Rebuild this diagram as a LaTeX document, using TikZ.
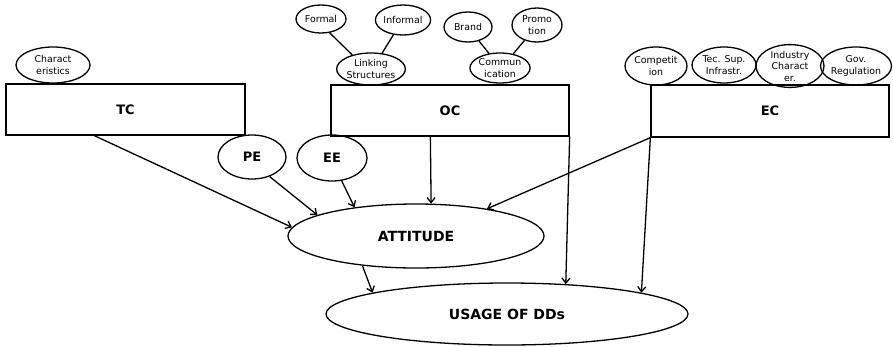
\documentclass[tikz,border=0pt]{standalone}
\usepackage{fontspec}
\setmainfont{DejaVu Sans}
\usetikzlibrary{shapes.geometric,arrows.meta,calc}
\begin{document}
\begin{tikzpicture}[x=1pt,y=-1pt,line width=1.3pt,
  box/.style={draw,rectangle,inner sep=0pt,font=\bfseries\fontsize{13}{15}\selectfont},
  oval/.style={draw,ellipse,inner sep=0pt,align=center,font=\fontsize{9.4}{11.5}\selectfont},
  bigoval/.style={draw,ellipse,inner sep=0pt,font=\bfseries\fontsize{13}{15}\selectfont},
  arr/.style={-{Straight Barb[length=5pt,width=8pt]}}]
\useasboundingbox (0,0) rectangle (893,346);
% boxes
\node[box,minimum width=239pt,minimum height=51pt] (TC) at (125.5,109.5) {TC};
\node[box,minimum width=238pt,minimum height=51pt] (OC) at (450,110.5) {OC};
\node[box,minimum width=238pt,minimum height=52pt] (EC) at (770,111) {EC};
% top ovals
\node[oval,minimum width=74pt,minimum height=36pt] (CH) at (53,65) {Charact\\eristics};
\node[oval,minimum width=50pt,minimum height=28pt] (FO) at (321,19) {Formal};
\node[oval,minimum width=50pt,minimum height=30pt] (IN) at (403,20) {Informal};
\node[oval,minimum width=58pt,minimum height=32pt] (LS) at (371,69) {Linking\\Structures};
\node[oval,minimum width=48pt,minimum height=30pt] (BR) at (468,27) {Brand};
\node[oval,minimum width=50pt,minimum height=34pt] (PR) at (537,25) {Promo\\tion};
\node[oval,minimum width=54pt,minimum height=30pt] (CO) at (500,68) {Commun\\ication};
\node[oval,minimum width=62pt,minimum height=38pt] (CP) at (656,66) {Competit\\ion};
\node[oval,minimum width=64pt,minimum height=36pt] (TS) at (724,65) {Tec. Sup.\\Infrastr.};
\node[oval,minimum width=68pt,minimum height=42pt] (IC) at (790,66) {Industry\\Charact\\er.};
\node[oval,minimum width=66pt,minimum height=38pt] (GR) at (856,66) {Gov.\\Regulation};
% PE EE
\node[bigoval,minimum width=68pt,minimum height=44pt] (PE) at (252,157) {PE};
\node[bigoval,minimum width=70pt,minimum height=46pt] (EE) at (332,158) {EE};
% main ovals
\node[bigoval,font=\bfseries\fontsize{14}{16}\selectfont,minimum width=256pt,minimum height=64pt] (ATT) at (416,236) {ATTITUDE};
\node[bigoval,font=\bfseries\fontsize{14}{16}\selectfont,minimum width=362pt,minimum height=62pt] (USE) at (507,314) {USAGE OF DDs};
% small connectors
\draw (FO.-58) -- (LS.143);
\draw (IN.237) -- (LS.55);
\draw (BR.-52) -- (CO.127);
\draw (PR.231) -- (CO.47);
% arrows
\coordinate (tcs) at ($(TC.south west)+(89,0)$);
\coordinate (ocs) at ($(OC.south west)+(100,0)$);
\draw[arr] (tcs) -- (ATT.176);
\draw[arr] (PE.-48) -- (ATT.168);
\draw[arr] (EE.-67) -- (ATT.155);
\draw[arr] (ocs) -- (ATT.65);
\draw[arr] (EC.south west) -- (ATT.21);
\draw[arr] (OC.south east) -- (USE.27);
\draw[arr] (EC.south west) -- (USE.9);
\draw[arr] (ATT.209) -- (USE.171);
\end{tikzpicture}
\end{document}
